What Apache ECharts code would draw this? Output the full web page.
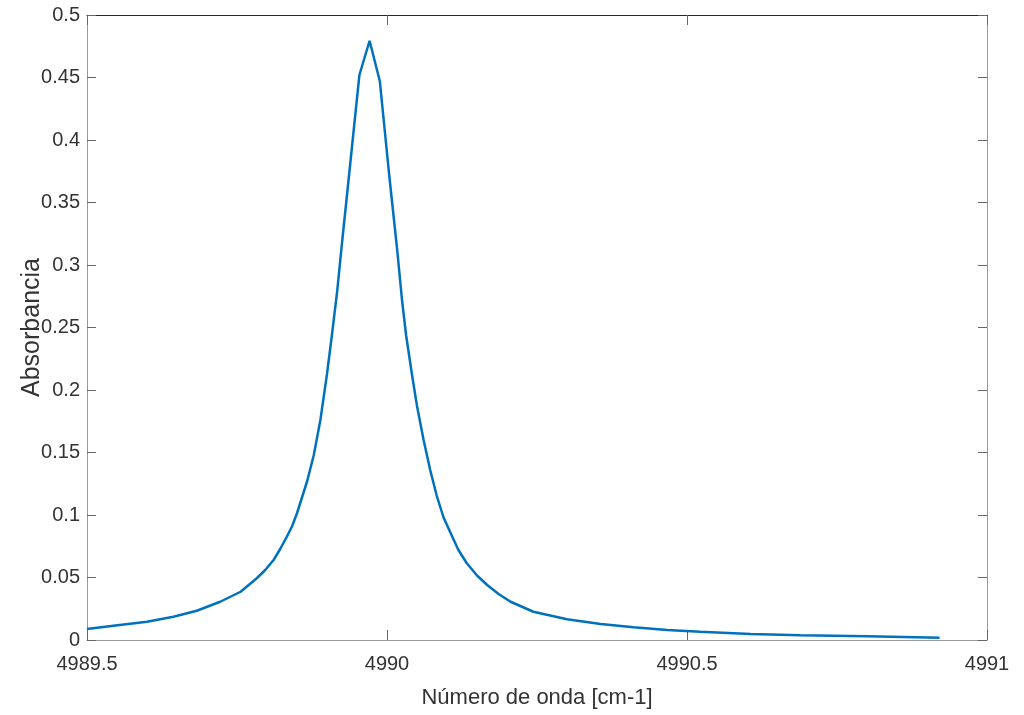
<!DOCTYPE html>
<html>
<head>
<meta charset="utf-8">
<script src="https://cdn.jsdelivr.net/npm/echarts@6/dist/echarts.min.js"></script>
<style>
html,body{margin:0;padding:0;background:#fff;}
#chart{width:1024px;height:715px;}
</style>
</head>
<body>
<div id="chart"></div>
<script>
// Wavenumber [cm-1]
const wavenumber = [
  4989.500, 4989.544, 4989.600, 4989.644, 4989.683, 4989.722, 4989.756, 4989.783,
  4989.797, 4989.811, 4989.822, 4989.833, 4989.842, 4989.850, 4989.867, 4989.878,
  4989.889, 4989.900, 4989.908, 4989.917, 4989.925, 4989.938, 4989.954, 4989.971,
  4989.988, 4990.004, 4990.017, 4990.025, 4990.032, 4990.042, 4990.050, 4990.061,
  4990.072, 4990.083, 4990.094, 4990.106, 4990.119, 4990.133, 4990.150, 4990.167,
  4990.186, 4990.206, 4990.244, 4990.300, 4990.356, 4990.411, 4990.467, 4990.522,
  4990.606, 4990.689, 4990.800, 4990.921
];
// Absorbance
const absorbance = [
  0.0088, 0.0114, 0.0146, 0.0186, 0.0234, 0.0306, 0.0386, 0.0494,
  0.0560, 0.0640, 0.0728, 0.0826, 0.0912, 0.1014, 0.1272, 0.1480,
  0.1760, 0.2128, 0.2432, 0.2792, 0.3176, 0.3776, 0.4520, 0.4794,
  0.4472, 0.3704, 0.3120, 0.2720, 0.2432, 0.2112, 0.1872, 0.1600,
  0.1360, 0.1152, 0.0984, 0.0856, 0.0720, 0.0614, 0.0516, 0.0440,
  0.0368, 0.0306, 0.0226, 0.0166, 0.0128, 0.0102, 0.0080, 0.0066,
  0.0048, 0.0038, 0.0030, 0.0018
];
const xTicks = [4989.5, 4990, 4990.5, 4991];
const yTicks = [0, 0.05, 0.1, 0.15, 0.2, 0.25, 0.3, 0.35, 0.4, 0.45, 0.5];
const xTitle = 'Número de onda [cm-1]';
const yTitle = 'Absorbancia';

const font = "'Liberation Sans', Arial, Helvetica, sans-serif";
const txt = '#333333';
const points = wavenumber.map((x, i) => [x, absorbance[i]]);
const fmt = v => String(parseFloat(v.toFixed(2)));

const chart = echarts.init(document.getElementById('chart'), null, {renderer: 'canvas'});
chart.setOption({
  backgroundColor: '#ffffff',
  animation: false,
  grid: {left: 87, right: 37, top: 15, bottom: 75, containLabel: false, outerBoundsMode: 'none'},
  xAxis: [{
    type: 'value', position: 'bottom',
    min: xTicks[0], max: xTicks[xTicks.length - 1], interval: xTicks[1] - xTicks[0],
    name: xTitle, nameLocation: 'middle', nameGap: 47, nameMoveOverlap: false,
    nameTextStyle: {fontFamily: font, fontSize: 22, color: txt},
    axisLine: {show: true, lineStyle: {color: '#9a9a9a', width: 1}},
    axisTick: {show: true, inside: true, length: 10, lineStyle: {color: '#666'}},
    axisLabel: {fontFamily: font, fontSize: 20, color: txt, margin: 14, formatter: fmt},
    splitLine: {show: false}
  }, {
    type: 'value', position: 'top',
    min: xTicks[0], max: xTicks[xTicks.length - 1], interval: xTicks[1] - xTicks[0],
    axisLine: {show: true, onZero: false, lineStyle: {color: '#262626', width: 1}},
    axisTick: {show: true, inside: true, length: 10, lineStyle: {color: '#666'}},
    axisLabel: {show: false}, splitLine: {show: false}
  }],
  yAxis: [{
    type: 'value', position: 'left',
    min: yTicks[0], max: yTicks[yTicks.length - 1], interval: yTicks[1] - yTicks[0],
    name: yTitle, nameLocation: 'middle', nameGap: 42, nameRotate: 90, nameMoveOverlap: false,
    nameTextStyle: {fontFamily: font, fontSize: 25, color: txt},
    axisLine: {show: true, lineStyle: {color: '#9a9a9a', width: 1}},
    axisTick: {show: true, inside: true, length: 9, lineStyle: {color: '#666'}},
    axisLabel: {fontFamily: font, fontSize: 20, color: txt, margin: 7, formatter: fmt},
    splitLine: {show: false}
  }, {
    type: 'value', position: 'right',
    min: yTicks[0], max: yTicks[yTicks.length - 1], interval: yTicks[1] - yTicks[0],
    axisLine: {show: true, onZero: false, lineStyle: {color: '#9a9a9a', width: 1}},
    axisTick: {show: true, inside: true, length: 9, lineStyle: {color: '#666'}},
    axisLabel: {show: false}, splitLine: {show: false}
  }],
  series: [{
    type: 'line',
    data: points,
    xAxisIndex: 0, yAxisIndex: 0,
    showSymbol: false, symbol: 'none',
    smooth: false,
    lineStyle: {color: '#0072BD', width: 2.5},
    itemStyle: {color: '#0072BD'}
  }]
});
</script>
</body>
</html>
